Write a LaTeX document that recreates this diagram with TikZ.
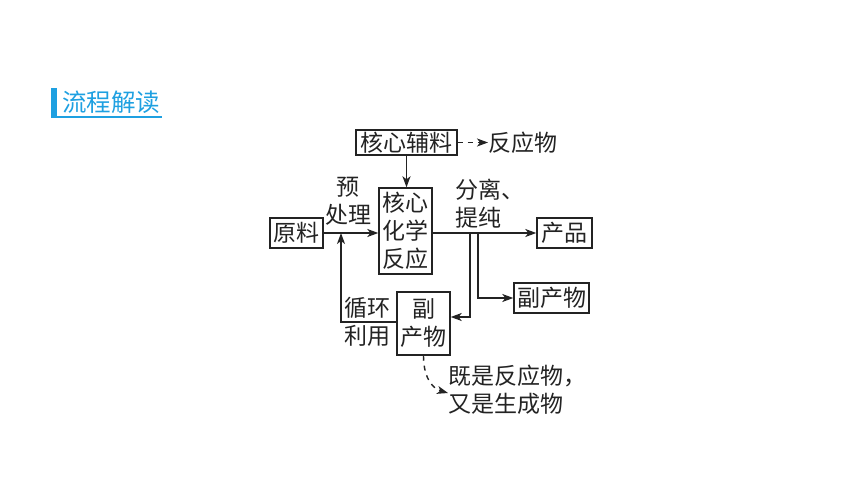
\documentclass[tikz,border=0pt]{standalone}
\usepackage{fontspec}
\setmainfont{Noto Sans CJK SC}
\usetikzlibrary{arrows.meta}
\definecolor{tblue}{RGB}{30,160,225}
\definecolor{ink}{RGB}{35,35,35}
\begin{document}
\begin{tikzpicture}[x=1pt,y=-1pt,
 box/.style={draw=ink,line width=1.4pt,inner sep=0pt,font=\fontsize{23}{28}\selectfont,align=center,text=ink},
 lbl/.style={inner sep=0pt,font=\fontsize{23}{28}\selectfont,align=center,text=ink},
 arr/.style={draw=ink,line width=1.4pt,-{Stealth[length=11pt,width=8pt,inset=3pt]}},
 dsh/.style={dash pattern=on 5pt off 5pt}]
\useasboundingbox (0,0) rectangle (860,484);
% title
\fill[tblue] (51,88) rectangle (57,117);
\draw[tblue,line width=1.5pt] (51,117) -- (162,117);
\node[inner sep=0pt,text=tblue,font=\fontsize{24.5}{28}\selectfont] (title) at (111,102) {流程解读};
% nodes
\node[box,minimum width=101pt,minimum height=25pt] (fl) at (406.5,142.5) {核心辅料};
\node[lbl,anchor=west] (fy) at (488,142.5) {反应物};
\node[box,minimum width=53pt,minimum height=86pt] (core) at (405.5,231) {核心\\化学\\反应};
\node[box,minimum width=53pt,minimum height=30pt] (yl) at (296.5,233) {原料};
\node[box,minimum width=55pt,minimum height=30pt] (cp) at (564.5,233) {产品};
\node[box,minimum width=75pt,minimum height=30pt] (fc1) at (551.5,298) {副产物};
\node[box,minimum width=53pt,minimum height=63pt] (fc2) at (423.5,323.5) {副\\产物};
\node[lbl] (pre) at (348,201) {预\\处理};
\node[lbl,anchor=west,align=left] (sep) at (455,203.5) {分离、\\提纯};
\node[lbl] (xh) at (367,322) {循环\\利用};
\node[lbl,anchor=west,align=left] (both) at (448,390) {既是反应物，\\又是生成物};
% connectors
\draw[arr] (fl.south) -- (fl.south |- core.north);
\draw[arr,dsh] (fl.east) -- (fy.west);
\draw[arr] (yl.east) -- (yl.east -| core.west);
\draw[arr] (cp.west -| core.east) -- (cp.west);
\coordinate (s1) at (470,233);
\coordinate (s2) at (478,233);
\draw[arr] (s1) |- ([yshift=6.5pt]fc2.east);
\draw[arr] (s2) |- (fc1.west);
\coordinate (r) at (341,233);
\draw[arr] ([yshift=1.5pt]fc2.west) -| (r);
\draw[arr,dsh] (fc2.south) .. controls +(0,24) and +(-14,-4) .. ([yshift=-3pt]both.west);
\end{tikzpicture}
\end{document}
